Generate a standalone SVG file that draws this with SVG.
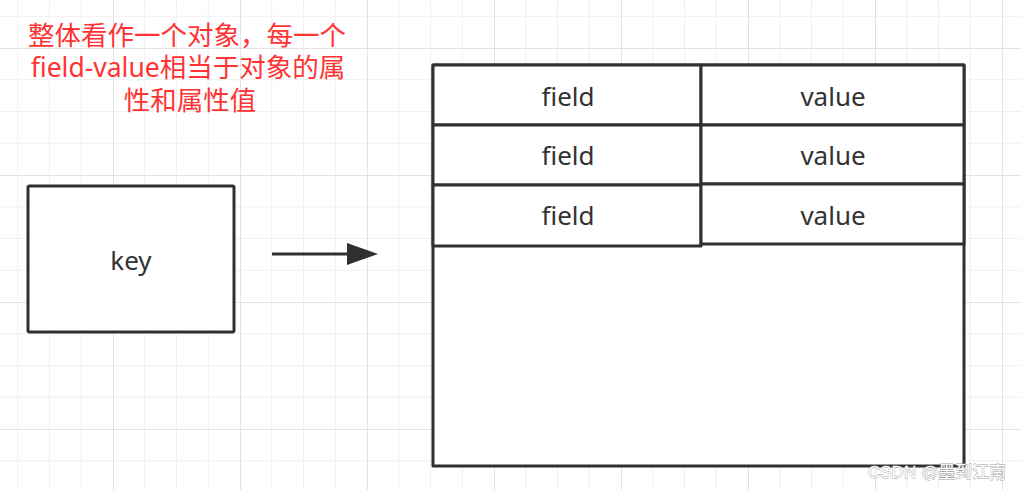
<svg xmlns="http://www.w3.org/2000/svg" width="1021" height="490" viewBox="0 0 1021 490">
  <defs>
    <pattern id="grid" x="113" y="48" width="127" height="127" patternUnits="userSpaceOnUse">
      <rect x="0" y="0" width="127" height="127" fill="#ffffff"/>
      <path d="M31.75 0V127M63.5 0V127M95.25 0V127M0 31.75H127M0 63.5H127M0 95.25H127" stroke="#f0f0f0" stroke-width="1" fill="none"/>
      <path d="M0.5 0V127M0 0.5H127" stroke="#e3e3e3" stroke-width="1" fill="none"/>
    </pattern>
    <style>
      .box { fill: #ffffff; stroke: #303030; stroke-width: 3; stroke-linejoin: round; }
      .lbl { font-family: "Noto Sans", "Open Sans", "Liberation Sans", sans-serif; font-size: 26px; fill: #333333; text-anchor: middle; }
      .note { font-family: "Noto Sans", "Noto Sans CJK SC", sans-serif; font-size: 26.5px; fill: #ff3333; text-anchor: middle; }
      .wm { font-family: "Liberation Sans", "Noto Sans CJK SC", sans-serif; font-size: 17px; fill: #ffffff; stroke: #9a9a9a; stroke-width: 0.8; paint-order: stroke; }
    </style>
  </defs>
  <rect x="0" y="0" width="1021" height="490" fill="url(#grid)"/>

  <g id="note">
    <text class="note" x="187" y="45" textLength="318" lengthAdjust="spacing">整体看作一个对象，每一个</text>
    <text class="note" x="188" y="77">field-value相当于对象的属</text>
    <text class="note" x="190" y="110">性和属性值</text>
  </g>

  <g id="key">
    <rect class="box" x="28" y="186" width="206" height="146" rx="1.5"/>
    <text class="lbl" x="131" y="270">key</text>
  </g>

  <g id="connectors">
    <line x1="272" y1="254" x2="348" y2="254" stroke="#303030" stroke-width="3"/>
    <polygon points="347,243 378,254 347,265" fill="#303030"/>
  </g>

  <g id="hash">
    <rect class="box" x="433" y="65" width="531" height="401"/>
    <g id="row1">
      <rect class="box" x="433" y="65" width="268" height="60"/>
      <rect class="box" x="701" y="65" width="263" height="60"/>
      <text class="lbl" x="568" y="106">field</text>
      <text class="lbl" x="833" y="106">value</text>
    </g>
    <g id="row2">
      <rect class="box" x="433" y="125" width="268" height="60"/>
      <rect class="box" x="701" y="125" width="263" height="59"/>
      <text class="lbl" x="568" y="165">field</text>
      <text class="lbl" x="833" y="165">value</text>
    </g>
    <g id="row3">
      <rect class="box" x="433" y="185" width="268" height="61"/>
      <rect class="box" x="701" y="184" width="263" height="60"/>
      <text class="lbl" x="568" y="225">field</text>
      <text class="lbl" x="833" y="225">value</text>
    </g>
  </g>

  <text class="wm" x="868" y="478">CSDN @墨到江南</text>
</svg>
